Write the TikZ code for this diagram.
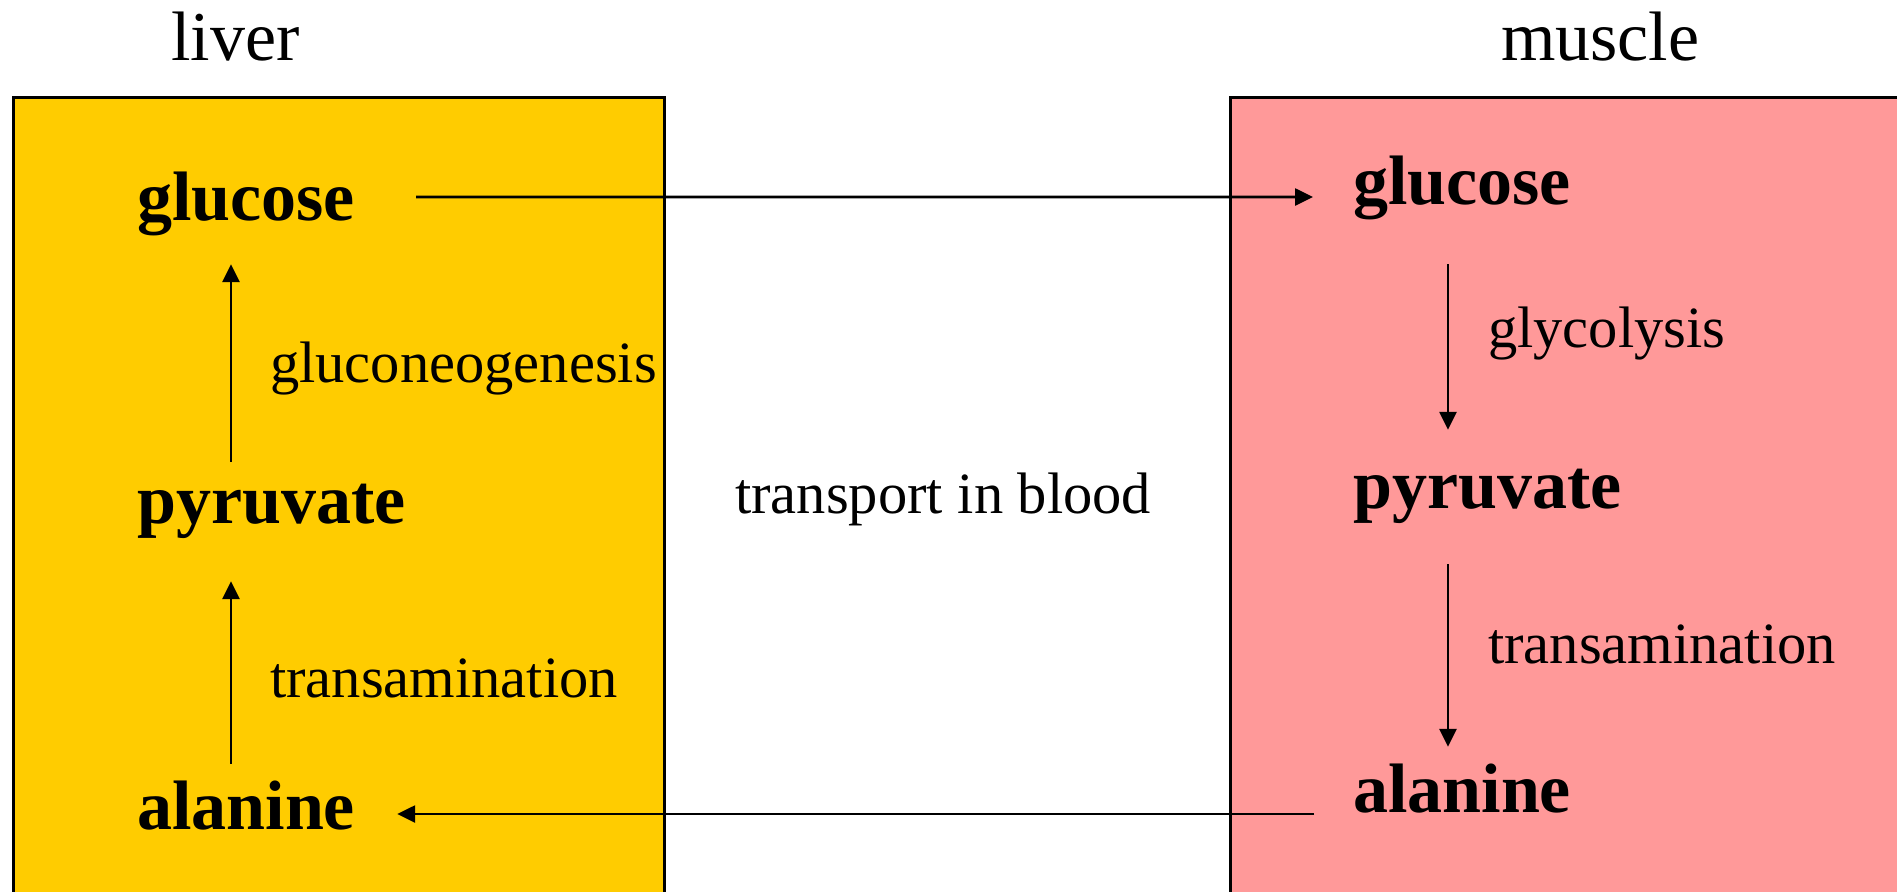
\documentclass[tikz,border=0pt]{standalone}
\usepackage{fontspec}
\setmainfont{Liberation Serif}
\usetikzlibrary{arrows.meta}
\definecolor{liverfill}{HTML}{FFCC00}
\definecolor{musclefill}{HTML}{FF9999}
\tikzset{
  organ/.style={line width=3bp, draw=black},
  title/.style={anchor=base west, inner sep=0pt, font=\fontsize{70bp}{84bp}\selectfont},
  metab/.style={anchor=base west, inner sep=0pt, text height=50bp, text depth=15bp,
                font=\fontsize{70bp}{84bp}\selectfont\bfseries},
  proc/.style={anchor=base west, inner sep=0pt, font=\fontsize{58.5bp}{70bp}\selectfont},
  flow/.style={line width=2.6bp, -{Triangle[length=18bp,width=17bp]}},
}
\begin{document}
\begin{tikzpicture}[x=1bp, y=-1bp]
  \clip (0,0) rectangle (1897,892);
  \fill[white] (0,0) rectangle (1897,892);

  % organ compartments (open at the bottom edge)
  \filldraw[organ, fill=liverfill] (13,97) rectangle (664,920);
  \filldraw[organ, fill=musclefill] (1230,97) rectangle (1920,920);

  % headings
  \node[title] (tliver) at (171,60) {liver};
  \node[title] (tmuscle) at (1501,60) {muscle};

  % liver metabolites
  \node[metab] (lglu) at (137,220) {glucose};
  \node[metab] (lpyr) at (137,523) {pyruvate};
  \node[metab] (lala) at (137,829) {alanine};

  % muscle metabolites
  \node[metab] (rglu) at (1353,204) {glucose};
  \node[metab] (rpyr) at (1353,508) {pyruvate};
  \node[metab] (rala) at (1353,812) {alanine};

  % process labels
  \node[proc] (lgng) at (270,382) {gluconeogenesis};
  \node[proc] (ltra) at (270,697) {transamination};
  \node[proc] (rgly) at (1488,347) {glycolysis};
  \node[proc] (rtra) at (1488,663) {transamination};
  \node[proc] (blood) at (735,513) {transport in blood};

  % arrow columns
  \coordinate (lcol) at (231,0);
  \coordinate (rcol) at (1448,0);

  % liver pathway
  \draw[flow] ([yshift=11bp]lpyr.north -| lcol) -- ([yshift=-29bp]lglu.south -| lcol);
  \draw[flow] ([yshift=15bp]lala.north -| lcol) -- ([yshift=-43bp]lpyr.south -| lcol);

  % muscle pathway
  \draw[flow] ([yshift=-45bp]rglu.south -| rcol) -- ([yshift=28bp]rpyr.north -| rcol);
  \draw[flow] ([yshift=-41bp]rpyr.south -| rcol) -- ([yshift=15bp]rala.north -| rcol);

  % exchange through the blood
  \draw[flow] ([shift={(61,-5.5)}]lglu.east) -- ([shift={(-40,10.5)}]rglu.west);
  \draw[flow] ([shift={(-39,19.5)}]rala.west) -- ([shift={(42,2.5)}]lala.east);
\end{tikzpicture}
\end{document}
